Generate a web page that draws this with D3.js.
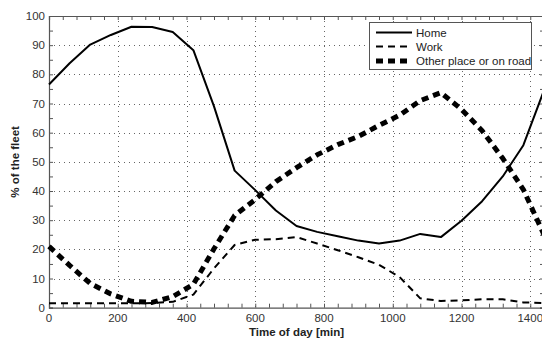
<!DOCTYPE html>
<html>
<head>
<meta charset="utf-8">
<script src="https://cdn.jsdelivr.net/npm/d3@7"></script>
<style>
  body { margin: 0; background: #fff; overflow: hidden; }
  svg { display: block; font-family: "Liberation Sans", Arial, sans-serif; }
</style>
</head>
<body>
<div id="chart"></div>
<script>
// time of day in minutes
const minutes = [0, 60, 120, 180, 240, 300, 360, 420, 480, 540, 600, 660, 720,
                 780, 840, 900, 960, 1020, 1080, 1140, 1200, 1260, 1320, 1380, 1440];
// % of the fleet
const homeValues  = [76.5, 83.8, 90.2, 93.5, 96.3, 96.2, 94.5, 88.3, 69, 47, 40.3, 33.3, 28,
                     26, 24.5, 23, 22, 23, 25.3, 24.2, 29.8, 36.5, 45, 55.7, 74.5];
const workValues  = [1.5, 1.5, 1.5, 1.5, 1.5, 1.6, 2.0, 4.5, 13.5, 21.5, 23.3, 23.5, 24.2,
                     22, 19.7, 17.3, 14.7, 10.5, 3.2, 2.3, 2.5, 2.9, 2.9, 1.8, 1.6];
const otherValues = [21, 14.5, 8.3, 4.7, 2.2, 1.8, 3.8, 8, 20.2, 31.6, 37.1, 43.2, 48,
                     52.4, 55.9, 58.7, 62.5, 66, 71, 73.7, 68, 60.7, 51.2, 40.5, 25];
const seriesNames = ["Home", "Work", "Other place or on road"];
const xTicks = [0, 200, 400, 600, 800, 1000, 1200, 1400];
const yTicks = [0, 10, 20, 30, 40, 50, 60, 70, 80, 90, 100];

const W = 542, H = 338;
const margin = {top: 16, right: 0, bottom: 30, left: 49};

const svg = d3.select("#chart").append("svg")
    .attr("width", W)
    .attr("height", H);

let x = d3.scaleLinear().domain([0, 1440]).range([margin.left, 544]);
let y = d3.scaleLinear().domain([0, 100]).range([307.7, margin.top]);

const x0 = x.range()[0], x1 = x.range()[1];
const y0 = y.range()[0], y1 = y.range()[1];

// dotted grid
let grid = svg.append("g").attr("class", "grid")
    .attr("stroke", "#666").attr("stroke-width", 1).attr("stroke-dasharray", "1,4");
grid.selectAll(".gx").data(xTicks.filter(d => d > 0)).enter().append("line")
    .attr("x1", d => Math.round(x(d)) + 0.5).attr("x2", d => Math.round(x(d)) + 0.5)
    .attr("y1", y1).attr("y2", y0);
grid.selectAll(".gy").data(yTicks.filter(d => d > 0 && d < 100)).enter().append("line")
    .attr("x1", x0).attr("x2", x1)
    .attr("y1", d => Math.round(y(d)) + 0.5).attr("y2", d => Math.round(y(d)) + 0.5);

// axes, ticks pointing inwards
const tickLen = 4;
let xAxis = d3.axisBottom(x).tickValues(d3.range(0, 1441, 40)).tickSize(-tickLen).tickFormat("");
let xAxisTop = d3.axisTop(x).tickValues(d3.range(0, 1441, 40)).tickSize(-tickLen).tickFormat("");
let yAxis = d3.axisLeft(y).tickValues(d3.range(0, 101, 5)).tickSize(-tickLen).tickFormat("");
let yAxisRight = d3.axisRight(y).tickValues(d3.range(0, 101, 5)).tickSize(-tickLen).tickFormat("");

function styleAxis(sel) {
    sel.selectAll("path").attr("stroke", "#555").attr("stroke-width", 1.2);
    sel.selectAll("line").attr("stroke", "#555");
}
svg.append("g").attr("transform", "translate(0," + y0 + ")").call(xAxis).call(styleAxis);
svg.append("g").attr("transform", "translate(0," + y1 + ")").call(xAxisTop).call(styleAxis);
svg.append("g").attr("transform", "translate(" + x0 + ",0)").call(yAxis).call(styleAxis);
svg.append("g").attr("transform", "translate(" + x1 + ",0)").call(yAxisRight).call(styleAxis);

// tick labels
svg.append("g").selectAll("text").data(xTicks).enter().append("text")
    .attr("x", d => x(d)).attr("y", 322)
    .attr("text-anchor", "middle")
    .attr("font-size", "11.5px").attr("fill", "#333")
    .text(d => d);
svg.append("g").selectAll("text").data(yTicks).enter().append("text")
    .attr("x", 45).attr("y", d => y(d) + 4)
    .attr("text-anchor", "end")
    .attr("font-size", "11.5px").attr("fill", "#333")
    .text(d => d);

// axis titles
svg.append("text")
    .attr("x", (x0 + x1) / 2).attr("y", 336)
    .attr("text-anchor", "middle")
    .attr("font-size", "11.5px").attr("font-weight", "bold").attr("fill", "#222")
    .text("Time of day [min]");
svg.append("text")
    .attr("transform", "translate(19," + ((y0 + y1) / 2) + ") rotate(-90)")
    .attr("text-anchor", "middle")
    .attr("font-size", "11.5px").attr("font-weight", "bold").attr("fill", "#222")
    .text("% of the fleet");

// series
const styles = [
    {values: homeValues, width: 2, dash: null},
    {values: workValues, width: 2, dash: "7,5"},
    {values: otherValues, width: 5, dash: "7,5"}
];
let line = d3.line().x((d, i) => x(minutes[i])).y(d => y(d));
styles.forEach(function (s) {
    svg.append("path")
        .datum(s.values)
        .attr("fill", "none")
        .attr("stroke", "#000")
        .attr("stroke-width", s.width)
        .attr("stroke-dasharray", s.dash)
        .attr("stroke-linejoin", "round")
        .attr("d", line);
});

// legend
let legend = svg.append("g");
legend.append("rect")
    .attr("x", 369.5).attr("y", 22.5).attr("width", 162).attr("height", 47)
    .attr("fill", "#fff").attr("stroke", "#555").attr("stroke-width", 1);
const legendY = [32.5, 46.5, 61];
styles.forEach(function (s, i) {
    legend.append("line")
        .attr("x1", 376).attr("x2", 412)
        .attr("y1", legendY[i]).attr("y2", legendY[i])
        .attr("stroke", "#000").attr("stroke-width", s.width)
        .attr("stroke-dasharray", s.dash);
    legend.append("text")
        .attr("x", 416).attr("y", legendY[i] + 4)
        .attr("font-size", "11.5px").attr("fill", "#222")
        .text(seriesNames[i]);
});
</script>
</body>
</html>
